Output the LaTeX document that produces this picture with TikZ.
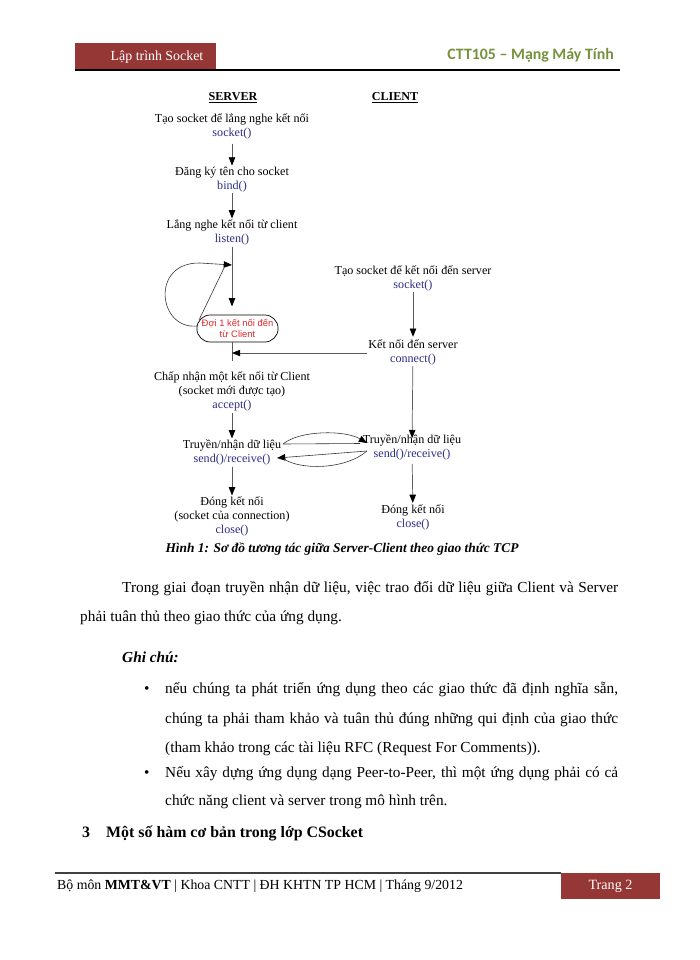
\documentclass[tikz,border=0pt]{standalone}
\usepackage{fontspec}
\setmainfont{Liberation Serif}
\newfontfamily\carlito{Carlito}
\newfontfamily\arialf{Liberation Sans}
\usetikzlibrary{arrows.meta}
\definecolor{hdrred}{HTML}{953735}
\definecolor{hdrgreen}{HTML}{76923C}
\definecolor{fn}{RGB}{45,45,135}
\definecolor{waitred}{RGB}{225,40,40}
\definecolor{lineg}{RGB}{90,90,90}
\begin{document}
\begin{tikzpicture}[x=0.85pt,y=-0.85pt,
  lbl/.style={align=center,font=\fontsize{10.3}{11.9}\selectfont,inner sep=1pt},
  tip/.style={-{Triangle[length=7pt,width=5.5pt,color=black,fill=black]}},
  arr/.style={draw=lineg,line width=0.6pt,tip},
  ln/.style={draw=lineg,line width=0.6pt},
  thinl/.style={draw=black!80,line width=0.5pt},
  body/.style={anchor=mid west,inner sep=0pt,font=\fontsize{13}{15}\selectfont},
]
\path[use as bounding box,fill=white] (0,0) rectangle (700,960);

% header
\fill[hdrred] (75,43) rectangle (216,70);
\node[text=white,font=\fontsize{11.8}{13}\selectfont] (htitle) at (157,57) {Lập trình Socket};
\node[anchor=mid east,text=hdrgreen,font=\carlito\bfseries\fontsize{13.5}{15}\selectfont] (hcourse) at (618,57) {CTT105 – Mạng Máy Tính};
\draw[line width=1pt] (75,70) -- (620,70);

% diagram labels
\node[lbl] (srv) at (233,98) {\textbf{\underline{SERVER}}};
\node[lbl] (cli) at (395,98) {\textbf{\underline{CLIENT}}};

\node[lbl] (s1) at (232,126) {Tạo socket để lắng nghe kết nối\\\textcolor{fn}{socket()}};
\node[lbl] (s2) at (232,179.5) {Đăng ký tên cho socket\\\textcolor{fn}{bind()}};
\node[lbl] (s3) at (232,232.5) {Lắng nghe kết nối từ client\\\textcolor{fn}{listen()}};
\node[draw=black,line width=0.6pt,rounded corners=11.4pt,minimum width=69pt,minimum height=23pt,
      align=center,inner sep=0pt,text=waitred,font=\arialf\fontsize{8}{10}\selectfont] (wait) at (237.5,328.5) {Đợi 1 kết nối đến\\từ Client};
\node[lbl] (s4) at (232,391.5) {Chấp nhận một kết nối từ Client\\(socket mới được tạo)\\\textcolor{fn}{accept()}};
\node[lbl] (s5) at (232,452.5) {Truyền/nhận dữ liệu\\\textcolor{fn}{send()/receive()}};
\node[lbl] (s6) at (232,516.5) {Đóng kết nối\\(socket của connection)\\\textcolor{fn}{close()}};

\node[lbl] (c1) at (413,278) {Tạo socket để kết nối đến server\\\textcolor{fn}{socket()}};
\node[lbl] (c2) at (413,352) {Kết nối đến server\\\textcolor{fn}{connect()}};
\node[lbl] (c3) at (412,447.5) {Truyền/nhận dữ liệu\\\textcolor{fn}{send()/receive()}};
\node[lbl] (c4) at (413,517) {Đóng kết nối\\\textcolor{fn}{close()}};

% server arrows
\draw[arr,shorten <=3pt] (s1) -- (s2);
\draw[arr] (s2) -- (s3);
\draw[arr,shorten >=7pt] (s3.south) -- (s3.south |- wait.north);
\draw[ln,shorten >=8pt] (wait.south -| s4.north) -- (s4.north);
\coordinate (m) at (232,353);
\draw[arr] (c2.west |- m) -- (m);
\draw[arr] (s4) -- (s5);
\draw[arr] (s5) -- (s6);

% loop
\coordinate (lt) at (232,265);
\draw[thinl,tip] (197,326) .. controls (158,330) and (150,262) .. (200,263) -- (lt);
\draw[thinl] (199,320) -- (224,268);

% client arrows
\draw[arr,shorten >=1pt] (c1) -- (c2);
\draw[arr,shorten >=-4pt] (c2) -- (c3);
\draw[arr,shorten <=2pt] (c3) -- (c4);

% exchange
\coordinate (x1) at (283,444);
\coordinate (x2) at (367,443);
\coordinate (y1) at (367,451);
\coordinate (y2) at (277,458);
\draw[thinl,tip] (x1) .. controls (300,430) and (345,430) .. (x2);
\draw[thinl] (x1) -- (360,443.5);
\draw[thinl,tip] (y1) -- (y2);
\draw[thinl] (y1) .. controls (345,470) and (300,470) .. (284,459);

% caption
\node[font=\bfseries\itshape\fontsize{11.4}{14}\selectfont] (cap) at (342,549) {Hình 1: Sơ đồ tương tác giữa Server-Client theo giao thức TCP};

% body
\node[body] (b1) at (122,590) {\makebox[421.6pt][s]{Trong giai đoạn truyền nhận dữ liệu, việc trao đổi dữ liệu giữa Client và Server}};
\node[body] (b2) at (80,619) {phải tuân thủ theo giao thức của ứng dụng.};
\node[body,font=\bfseries\itshape\fontsize{13}{15}\selectfont] (gc) at (122,660) {Ghi chú:};
\node[body] (bu1) at (144,691) {\textbullet};
\node[body] (l1) at (165,691) {\makebox[385pt][s]{nếu chúng ta phát triển ứng dụng theo các giao thức đã định nghĩa sẵn,}};
\node[body] (l2) at (165,721) {\makebox[385pt][s]{chúng ta phải tham khảo và tuân thủ đúng những qui định của giao thức}};
\node[body] (l3) at (165,750) {(tham khảo trong các tài liệu RFC (Request For Comments)).};
\node[body] (bu2) at (144,775) {\textbullet};
\node[body] (l4) at (165,775) {\makebox[385pt][s]{Nếu xây dựng ứng dụng dạng Peer-to-Peer, thì một ứng dụng phải có cả}};
\node[body] (l5) at (165,803) {chức năng client và server trong mô hình trên.};
\node[body,font=\bfseries\fontsize{13.5}{15}\selectfont] (hn) at (82,835) {3};
\node[body,font=\bfseries\fontsize{13.5}{15}\selectfont] (ht) at (106,835) {Một số hàm cơ bản trong lớp CSocket};

% footer
\draw[line width=1.2pt,black!75] (55,873) -- (561,873);
\fill[hdrred] (561,873) rectangle (660,899);
\node[text=white,font=\fontsize{12}{14}\selectfont] (pg) at (610.5,886) {Trang 2};
\node[body,font=\fontsize{11.75}{14}\selectfont] (ft) at (57,887) {Bộ môn \textbf{MMT\&VT} | Khoa CNTT | ĐH KHTN TP HCM | Tháng 9/2012};
\end{tikzpicture}
\end{document}
